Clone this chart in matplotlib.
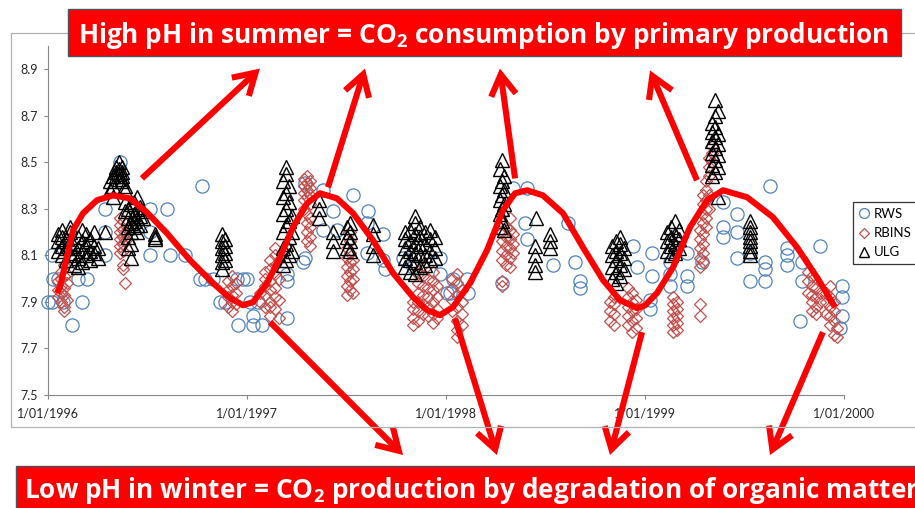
import matplotlib
matplotlib.use("Agg")
import matplotlib.pyplot as plt
from matplotlib.patches import Rectangle

plt.rcParams['font.family'] = ['Lato', 'DejaVu Sans']
plt.rcParams['mathtext.fontset'] = 'custom'
plt.rcParams['mathtext.rm'] = 'Open Sans:bold'
plt.rcParams['mathtext.bf'] = 'Open Sans:bold'
plt.rcParams['mathtext.it'] = 'Open Sans:bold'

# ---------------- data (decimal years, pH) ----------------
rws_dates = [1996.000, 1996.020, 1996.020, 1996.025, 1996.050, 1996.075, 1996.121, 1996.151, 1996.171, 1996.196,
             1996.286, 1996.286, 1996.286, 1996.362, 1996.513, 1996.513, 1996.513, 1996.598, 1996.613, 1996.688,
             1996.774, 1996.764, 1996.789, 1996.829, 1996.864, 1996.889, 1996.950, 1996.955, 1996.980, 1997.000,
             1997.015, 1997.030, 1997.030, 1997.055, 1997.075, 1997.201, 1997.201, 1997.201, 1997.281, 1997.291,
             1997.291, 1997.382, 1997.432, 1997.382, 1997.452, 1997.533, 1997.608, 1997.603, 1997.603, 1997.683,
             1997.683, 1997.693, 1997.784, 1997.834, 1997.970, 1997.970, 1998.005, 1998.035, 1998.106, 1998.020,
             1998.111, 1998.281, 1998.337, 1998.407, 1998.397, 1998.407, 1998.613, 1998.538, 1998.648, 1998.673,
             1998.673, 1998.940, 1998.960, 1999.035, 1999.035, 1999.025, 1999.025, 1999.126, 1999.126, 1999.126,
             1999.211, 1999.211, 1999.211, 1999.286, 1999.392, 1999.462, 1999.392, 1999.392, 1999.462, 1999.528,
             1999.462, 1999.628, 1999.603, 1999.603, 1999.603, 1999.528, 1999.714, 1999.714, 1999.714, 1999.789,
             1999.879, 1999.789, 1999.779, 1999.990, 1999.990, 1999.990, 1999.980]
rws_ph = [7.90, 7.90, 8.10, 8.00, 8.00, 7.90, 7.80, 8.00, 7.90, 8.00,
          8.30, 8.20, 8.10, 8.50, 8.30, 8.20, 8.10, 8.30, 8.10, 8.10,
          8.40, 8.00, 8.00, 8.00, 7.90, 7.90, 8.00, 7.80, 8.00, 8.00,
          7.90, 7.84, 7.80, 7.90, 7.80, 7.83, 7.99, 8.02, 8.07, 8.09,
          8.41, 8.38, 8.29, 8.21, 8.21, 8.36, 8.29, 8.24, 8.11, 8.19,
          8.08, 8.04, 8.09, 8.05, 8.09, 8.02, 7.94, 8.00, 8.00, 7.94,
          7.94, 7.98, 8.39, 8.39, 8.24, 8.17, 8.24, 8.06, 8.07, 7.99,
          7.96, 8.14, 8.05, 8.11, 8.01, 7.91, 7.87, 8.07, 8.02, 7.97,
          8.11, 8.01, 7.97, 8.07, 8.33, 8.28, 8.22, 8.18, 8.20, 8.11,
          8.09, 8.40, 8.07, 8.04, 7.99, 7.99, 8.13, 8.10, 8.06, 8.07,
          8.14, 7.99, 7.82, 7.97, 7.92, 7.84, 7.79]

rbins_dates = [1996.050, 1996.065, 1996.080, 1996.095, 1996.362, 1996.377, 1996.387, 1996.905, 1996.925, 1996.945,
               1997.065, 1997.090, 1997.116, 1997.141, 1997.161, 1997.286, 1997.302, 1997.317, 1997.503, 1997.518,
               1997.533, 1997.834, 1997.859, 1997.884, 1997.910, 1997.935, 1997.955, 1998.030, 1998.055, 1998.080,
               1998.281, 1998.302, 1998.322, 1998.337, 1998.824, 1998.844, 1998.915, 1998.935, 1998.955, 1999.141,
               1999.161, 1999.276, 1999.291, 1999.307, 1999.322, 1999.337, 1999.819, 1999.839, 1999.859, 1999.879,
               1999.910, 1999.930, 1999.950, 1999.965]
rbins_ph = [[7.92, 7.95, 7.99], [7.90, 7.94, 7.97, 8.00, 8.03], [7.86, 7.88, 7.93, 7.96, 8.01, 8.06], [7.91, 7.98, 8.02],
            [8.11, 8.14, 8.17, 8.20, 8.23, 8.26], [8.04, 8.06, 8.12, 8.15, 8.18, 8.21, 8.25], [7.98, 8.16, 8.19],
            [7.88, 7.92, 7.95, 7.99], [7.86, 7.90, 7.93, 7.97, 8.01], [7.89, 7.94, 7.98],
            [7.90, 7.94], [7.88, 7.93, 7.97, 8.00, 8.03], [7.84, 7.88, 7.90, 7.95, 7.99, 8.04, 8.08],
            [7.87, 7.92, 7.96, 8.02, 8.06, 8.10, 8.13], [7.83, 7.91, 8.00, 8.08],
            [8.30, 8.34, 8.37, 8.40, 8.43], [8.16, 8.20, 8.24, 8.28, 8.35, 8.38, 8.41, 8.44],
            [8.14, 8.18, 8.22, 8.26, 8.32, 8.36, 8.39, 8.42],
            [7.93, 7.97, 8.01, 8.05, 8.09, 8.13], [7.95, 7.99, 8.03, 8.07, 8.11, 8.16, 8.20], [7.94, 8.00, 8.04, 8.08],
            [7.80, 7.83, 7.87, 7.90], [7.82, 7.86, 7.90, 7.94, 7.98, 8.02], [7.85, 7.89, 7.93, 7.97, 8.01, 8.06],
            [7.84, 7.88, 7.92, 7.96, 8.00], [7.81, 7.85, 7.90, 7.95, 7.99, 8.03], [7.83, 7.87, 7.92, 7.97],
            [7.86, 7.91, 7.96, 8.00], [7.75, 7.78, 7.82, 7.88, 7.93, 7.98, 8.02], [7.80, 7.85, 7.90, 7.95],
            [7.97, 7.99, 8.08, 8.12, 8.16, 8.20, 8.24], [8.06, 8.10, 8.14, 8.18, 8.22],
            [8.05, 8.09, 8.13, 8.17, 8.21, 8.26], [8.11, 8.15, 8.19],
            [7.82, 7.86, 7.90], [7.80, 7.85, 7.89, 7.92], [7.80, 7.84, 7.88, 7.92, 7.96],
            [7.77, 7.82, 7.86, 7.90, 7.94], [7.79, 7.83, 7.87, 7.91],
            [7.77, 7.80, 7.83, 7.86, 7.89, 7.92], [7.78, 7.81, 7.84, 7.87, 7.90],
            [7.84, 7.89, 8.05, 8.09, 8.13, 8.17, 8.21], [8.07, 8.11, 8.15, 8.19, 8.24, 8.28, 8.32, 8.36],
            [8.22, 8.26, 8.30, 8.34, 8.38, 8.42], [8.30, 8.36, 8.44, 8.48, 8.52], [8.50, 8.54, 8.57],
            [7.94, 7.99, 8.03], [7.86, 7.90, 7.93, 7.97, 8.01], [7.85, 7.88, 7.92, 7.96], [7.90, 7.94],
            [7.85, 7.90, 7.94], [7.80, 7.84, 7.88, 7.92, 7.97], [7.76, 7.82, 7.86, 7.90], [7.75, 7.79]]

ulg_dates = [1996.050, 1996.070, 1996.090, 1996.111, 1996.131, 1996.151, 1996.171, 1996.191, 1996.211, 1996.231,
             1996.251, 1996.286, 1996.312, 1996.327, 1996.342, 1996.357, 1996.372, 1996.387, 1996.402, 1996.417,
             1996.432, 1996.447, 1996.462, 1996.477, 1996.538, 1996.874, 1996.889, 1997.181, 1997.196, 1997.211,
             1997.226, 1997.362, 1997.432, 1997.503, 1997.518, 1997.633, 1997.794, 1997.819, 1997.844, 1997.869,
             1997.894, 1997.920, 1997.945, 1998.271, 1998.281, 1998.291, 1998.447, 1998.452, 1998.523, 1998.834,
             1998.854, 1998.874, 1998.894, 1999.111, 1999.131, 1999.151, 1999.171, 1999.337, 1999.352, 1999.367,
             1999.528]
ulg_ph = [[8.12, 8.16, 8.19], [8.10, 8.14, 8.18, 8.21], [8.08, 8.13, 8.17], [8.11, 8.15, 8.20, 8.22],
          [8.06, 8.10, 8.14], [8.05, 8.09, 8.13, 8.18], [8.07, 8.12, 8.16, 8.21], [8.10, 8.15, 8.19],
          [8.08, 8.12, 8.17], [8.11, 8.14, 8.20], [8.09, 8.13], [8.20], [8.38, 8.42], [8.35, 8.40, 8.44],
          [8.44, 8.46, 8.48], [8.43, 8.45, 8.47, 8.50], [8.42, 8.44, 8.46, 8.48], [8.29, 8.33, 8.38, 8.40],
          [8.13, 8.18, 8.22, 8.26, 8.30], [8.09, 8.15, 8.20, 8.24, 8.32], [8.22, 8.25, 8.28, 8.33],
          [8.20, 8.23, 8.26, 8.30, 8.35], [8.23, 8.27, 8.31], [8.26, 8.29], [8.17, 8.18, 8.19],
          [8.04, 8.07, 8.10, 8.13, 8.16, 8.19], [8.08, 8.11, 8.14, 8.17],
          [8.06, 8.13, 8.20, 8.28, 8.35, 8.42], [8.08, 8.15, 8.23, 8.30, 8.37, 8.45, 8.48],
          [8.10, 8.18, 8.25, 8.33, 8.40], [8.12, 8.20, 8.27], [8.26, 8.30, 8.34], [8.12, 8.16, 8.20],
          [8.13, 8.18, 8.22], [8.12, 8.16, 8.20, 8.24], [8.10, 8.14, 8.19, 8.23],
          [8.05, 8.09, 8.13, 8.17, 8.20], [8.03, 8.08, 8.12, 8.16, 8.21], [8.02, 8.07, 8.11, 8.15, 8.19, 8.24, 8.27],
          [8.05, 8.10, 8.14, 8.18, 8.22], [8.06, 8.10, 8.15, 8.20], [8.08, 8.12, 8.17, 8.21], [8.09, 8.13, 8.18],
          [8.22, 8.28, 8.34, 8.40, 8.47], [8.25, 8.30, 8.36, 8.42, 8.51], [8.21, 8.32, 8.38, 8.44],
          [8.03, 8.06, 8.10, 8.14], [8.26], [8.13, 8.16, 8.19],
          [8.00, 8.05, 8.10, 8.14], [7.98, 8.03, 8.08, 8.12, 8.16], [8.01, 8.06, 8.11, 8.15, 8.18], [8.04, 8.09, 8.13],
          [8.12, 8.16, 8.20], [8.10, 8.14, 8.18, 8.22], [8.11, 8.15, 8.19, 8.25], [8.13, 8.17, 8.21],
          [8.44, 8.49, 8.54, 8.59, 8.63, 8.67], [8.46, 8.51, 8.56, 8.61, 8.65, 8.70, 8.77],
          [8.35, 8.48, 8.53, 8.58, 8.62, 8.72], [8.10, 8.12, 8.14, 8.16, 8.18, 8.20, 8.22, 8.25]]

# hand-drawn seasonal curve
curve_dates = [1996.045, 1996.060, 1996.126, 1996.176, 1996.246, 1996.327, 1996.412, 1996.497, 1996.598, 1996.714,
               1996.829, 1996.915, 1996.980, 1997.030, 1997.101, 1997.166, 1997.231, 1997.302, 1997.367, 1997.452,
               1997.533, 1997.633, 1997.734, 1997.834, 1997.905, 1997.970, 1998.035, 1998.121, 1998.206, 1998.286,
               1998.347, 1998.407, 1998.487, 1998.588, 1998.688, 1998.789, 1998.874, 1998.960, 1999.000, 1999.060,
               1999.141, 1999.226, 1999.312, 1999.392, 1999.513, 1999.643, 1999.764, 1999.864, 1999.955]
curve_ph = [7.938, 7.964, 8.208, 8.281, 8.337, 8.358, 8.345, 8.285, 8.195, 8.079,
            7.981, 7.916, 7.886, 7.899, 7.981, 8.092, 8.221, 8.324, 8.367, 8.345,
            8.281, 8.165, 8.024, 7.921, 7.865, 7.843, 7.878, 7.981, 8.122, 8.294,
            8.367, 8.380, 8.358, 8.281, 8.135, 7.994, 7.908, 7.873, 7.885, 7.938,
            8.049, 8.221, 8.337, 8.380, 8.350, 8.264, 8.135, 8.006, 7.878]

# arrows: (tail date, tail pH, head date, head pH)
arrow_tail_x = [1996.472, 1997.407, 1998.347, 1999.261, 1997.116, 1998.045, 1998.985, 1999.894]
arrow_tail_y = [8.431, 8.393, 8.431, 8.423, 7.813, 7.830, 7.770, 7.770]
arrow_head_x = [1997.065, 1997.593, 1998.271, 1999.025, 1997.784, 1998.256, 1998.824, 1999.628]
arrow_head_y = [8.903, 8.903, 8.903, 8.895, 7.242, 7.242, 7.242, 7.242]

x_ticks = [1996, 1997, 1998, 1999, 2000]
x_tick_labels = ['1/01/1996', '1/01/1997', '1/01/1998', '1/01/1999', '1/01/2000']
y_ticks = [7.5, 7.7, 7.9, 8.1, 8.3, 8.5, 8.7, 8.9]

top_text = r'High pH in summer = CO$_2$ consumption by primary production'
bottom_text = r'Low pH in winter = CO$_2$ production by degradation of organic matter'

# ---------------- figure ----------------
W, H = 915, 508
fig = plt.figure(figsize=(W / 100, H / 100), dpi=100)

def fx(px):
    return px / W

def fy(py):
    return 1 - py / H

# outer chart frame
fig.patches.append(Rectangle((fx(11), fy(427)), fx(930) - fx(11), fy(33) - fy(427),
                             transform=fig.transFigure, fill=False, edgecolor='#B0B0B0', lw=0.9))

ax = fig.add_axes([fx(48), fy(395), fx(844) - fx(48), fy(46) - fy(395)])
ax.set_xlim(1996, 2000)
ax.set_ylim(7.5, 9.0)

def expand(dates, groups):
    xs, ys = [], []
    for d, g in zip(dates, groups):
        for v in g:
            xs.append(d)
            ys.append(v)
    return xs, ys

rb_x, rb_y = expand(rbins_dates, rbins_ph)
ul_x, ul_y = expand(ulg_dates, ulg_ph)

ax.plot(rws_dates, rws_ph, ls='none', marker='o', ms=9.5, mfc='none', mec='#4F81BD', mew=0.9,
        label='RWS', clip_on=False, zorder=3)
ax.plot(rb_x, rb_y, ls='none', marker='D', ms=6.3, mfc='none', mec='#C0504D', mew=0.9,
        label='RBINS', clip_on=False, zorder=4)
ax.plot(ul_x, ul_y, ls='none', marker='^', ms=9.5, mfc='none', mec='black', mew=1.0,
        label='ULG', clip_on=False, zorder=5)

ax.plot(curve_dates, curve_ph, color='#FF0000', lw=4.4, solid_joinstyle='round',
        solid_capstyle='butt', zorder=6, clip_on=False)

for tx, ty, hx, hy in zip(arrow_tail_x, arrow_tail_y, arrow_head_x, arrow_head_y):
    ax.annotate('', xy=(hx, hy), xytext=(tx, ty), annotation_clip=False,
                arrowprops=dict(arrowstyle='->,head_length=0.75,head_width=0.45', color='#FF0000',
                                lw=4.4, mutation_scale=20, shrinkA=0, shrinkB=0,
                                joinstyle='miter', capstyle='butt'), zorder=7)

for s in ['top', 'right']:
    ax.spines[s].set_visible(False)
for s in ['left', 'bottom']:
    ax.spines[s].set_color('#868686')
    ax.spines[s].set_linewidth(0.8)

ax.set_xticks(x_ticks)
ax.set_xticklabels(x_tick_labels)
ax.set_yticks(y_ticks)
ax.set_yticklabels([f'{v:.1f}' for v in y_ticks])
ax.tick_params(axis='both', direction='out', length=3, width=0.8, color='#868686',
               labelsize=9, labelcolor='#262626')
ax.tick_params(axis='x', pad=6)
ax.tick_params(axis='y', pad=4)

leg = ax.legend(loc='upper left', bbox_to_anchor=(fx(853), fy(202)), bbox_transform=fig.transFigure,
                frameon=True, fancybox=False, fontsize=9.5, handlelength=0.8, handletextpad=0.3,
                borderpad=0.45, labelspacing=0.55, borderaxespad=0, markerscale=0.75)
leg.get_frame().set_edgecolor('black')
leg.get_frame().set_linewidth(0.9)
leg.set_zorder(10)

# banners
banner_font = ['Open Sans', 'DejaVu Sans']
fig.patches.append(Rectangle((fx(68), fy(56)), fx(901) - fx(68), fy(9) - fy(56),
                             transform=fig.transFigure, facecolor='#FF0000', edgecolor='#4A5560', lw=1.0,
                             zorder=20))
fig.text(fx(78), fy(43), top_text, color='white', fontsize=18.9, fontweight='bold', family=banner_font,
         va='baseline', ha='left', zorder=21)

fig.patches.append(Rectangle((fx(16), fy(520)), fx(940) - fx(16), fy(466) - fy(520),
                             transform=fig.transFigure, facecolor='#FF0000', edgecolor='#4A5560', lw=1.0,
                             zorder=20))
fig.text(fx(24), fy(498), bottom_text, color='white', fontsize=18.9, fontweight='bold', family=banner_font,
         va='baseline', ha='left', zorder=21)

fig.savefig('out.png', dpi=100)
